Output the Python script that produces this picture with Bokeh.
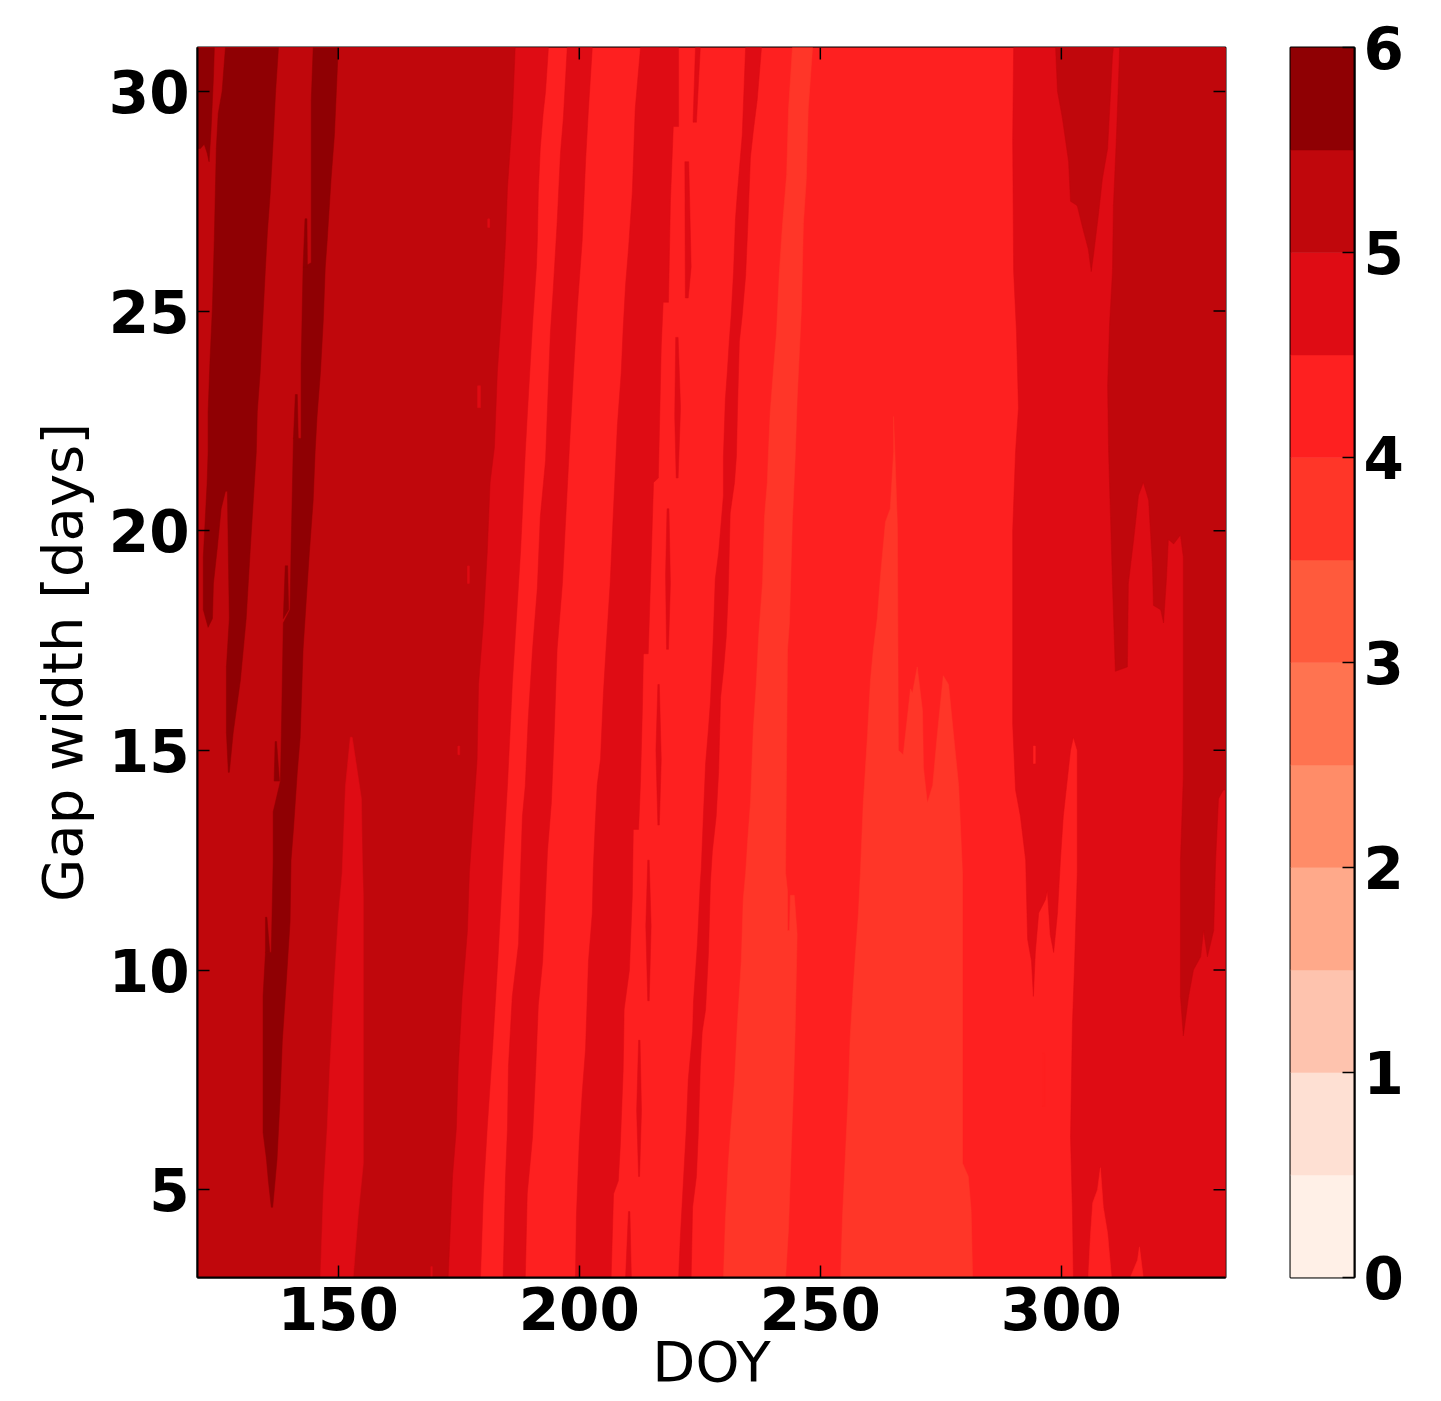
from bokeh.embed import file_html
from bokeh.resources import INLINE
from bokeh.plotting import figure
from bokeh.layouts import row
from bokeh.models import Range1d, FixedTicker

# contour levels and the colour of each filled band
levels = [0, 0.5, 1, 1.5, 2, 2.5, 3, 3.5, 4, 4.5, 5, 5.5, 6]
band_colors = ["#fff0e7", "#fee0d3", "#fec3ae", "#ffa98a", "#ff8c68", "#ff7350",
               "#ff5a3c", "#ff3628", "#fe2020", "#df0c14", "#c0070c", "#8f0003"]
xticks = [150, 200, 250, 300]
yticks = [5, 10, 15, 20, 25, 30]
cticks = [0, 1, 2, 3, 4, 5, 6]
DOY_MIN, DOY_MAX = 120.8, 334.05
GAP_MIN, GAP_MAX = 3, 31

# contour outlines as (DOY, gap width) pairs
edge_45_left = [(193.6,31),(193.0,30.0),(192.5,29.5),(191.9,28.7),(191.5,27.7),(191.3,26.6),(191.1,26.0),(190.3,24.7),(189.2,22.6),(188.8,21.8),(187.8,19.5),(186.1,16.5),(185.1,14.2),(184.2,12.5),(183.2,10.4),(182.0,8.2),(180.9,6.4),(180.1,4.9),(179.5,3)]
edge_50_left = [(186.7,31),(186.1,29.4),(185.1,27.8),(184.7,26.6),(184.0,25.2),(183.0,23.6),(182.4,21.9),(181.5,21.1),(180.9,19.5),(180.1,17.9),(179.1,16.5),(178.8,14.8),(178.0,13.5),(177.2,12.2),(176.8,10.9),(175.7,9.4),(174.9,7.8),(174.5,6.4),(173.7,5.3),(172.8,3)]
stripe_a_left = [(197.5,31),(196.7,29.4),(196.1,28.6),(195.4,27.0),(194.6,25.5),(194.0,24.5),(193.4,22.8),(193.0,21.6),(191.9,20.3),(191.3,18.7),(190.3,17.3),(189.4,15.7),(188.8,14.2),(188.2,13.5),(187.8,12.2),(187.4,10.6),(186.1,9.4),(185.3,7.8),(185.1,6.4),(184.7,5.3),(184.2,3)]
stripe_a_right = [(202.7,31),(201.9,29.6),(201.3,28.4),(200.6,26.6),(199.6,25.1),(198.8,23.6),(197.9,21.8),(197.1,20.1),(196.5,18.8),(195.4,17.3),(194.8,15.4),(194.2,13.8),(193.4,12.7),(193.0,11.7),(192.4,10.2),(191.5,9.2),(190.9,7.6),(190.3,6.2),(189.8,5.6),(189.2,4.9),(188.8,3)]
stripe_b_left = [(212.7,31),(211.6,29.6),(211.0,27.7),(210.2,26.4),(209.6,25.6),(209.1,24.6),(208.7,23.6),(207.9,22.4),(207.1,20.5),(206.4,18.8),(205.6,17.4),(205.0,16.3),(204.4,14.8),(203.7,14.2),(203.3,13.3),(202.9,12.3),(202.7,11.3),(201.9,10.2),(201.3,8.2),(200.6,7.2),(200.0,6.1),(199.4,4.4),(199.2,3)]
stripe_b_right = [(220.6,31),(220.6,29.2),(219.5,29.2),(218.9,27.5),(218.5,25.2),(217.4,25.2),(217.0,24.2),(216.4,21.2),(215.4,21.1),(214.7,18.6),(214.3,17.2),(213.3,17.2),(213.1,16.0),(212.7,14.3),(212.3,13.2),(211.2,13.2),(211.0,11.7),(210.4,10.0),(209.3,9.1),(209.1,7.7),(208.5,6.0),(208.1,5.2),(207.1,4.9),(206.6,3)]
stripe_c_left = [(234.5,31),(233.8,29.0),(232.8,27.7),(232.4,27.1),(232.0,25.9),(231.5,24.9),(231.1,24.3),(230.7,23.6),(230.3,23.0),(229.9,21.7),(229.9,20.8),(228.9,19.5),(228.2,18.9),(227.8,17.6),(227.2,16.1),(226.8,15.5),(226.2,14.7),(225.7,13.4),(225.3,12.3),(225.1,12.0),(224.5,10.6),(223.7,9.3),(223.5,8.6),(222.6,7.5),(222.2,6.4),(221.6,5.2),(221.0,4.0),(220.6,3)]
stripe_c_right = [(237.8,31),(236.9,29.8),(236.1,29.1),(235.5,28.5),(234.9,26.8),(234.5,25.8),(233.8,24.9),(233.2,24.3),(232.8,22.7),(232.6,21.7),(232.2,21.1),(231.3,20.4),(230.9,18.6),(230.5,17.6),(229.9,16.8),(229.3,16.2),(228.9,14.5),(228.4,13.5),(227.6,12.7),(227.2,12.0),(226.8,10.4),(226.2,9.1),(225.5,8.6),(225.1,7.8),(224.7,6.3),(224.3,5.3),(223.5,4.6),(223.2,3)]
sliver_1 = [(224.1,31),(225.1,31),(224.3,29.3),(223.6,29.3)]
sliver_2 = [(221.9,28.4),(222.7,28.4),(223.2,26.0),(222.6,25.3),(222.0,25.3)]
sliver_3 = [(220.0,24.4),(220.5,24.4),(221.0,22.8),(220.5,21.2),(220.1,21.2),(219.8,22.6)]
sliver_4 = [(218.2,20.5),(218.6,20.5),(218.9,18.8),(218.5,17.3),(218.1,17.3),(217.9,19.0)]
sliver_5 = [(216.3,16.5),(216.6,16.5),(217.0,14.8),(216.6,13.3),(216.3,13.3),(215.9,15.0)]
sliver_6 = [(214.2,12.5),(214.5,12.5),(214.9,11.0),(214.5,9.3),(214.2,9.3),(213.8,11.0)]
sliver_7 = [(212.3,8.4),(212.6,8.4),(212.9,6.8),(212.5,5.3),(212.3,5.3),(211.9,6.8)]
sliver_8 = [(210.2,4.5),(210.5,4.5),(210.8,3),(209.6,3)]
centre_35_left = [(244.2,31),(243.4,29.6),(243.0,28.1),(242.1,26.9),(241.5,25.9),(240.9,24.5),(240.3,23.7),(239.6,22.7),(239.2,21.7),(239.0,21.1),(238.4,20.3),(238.0,18.8),(237.2,17.6),(236.7,16.5),(236.1,15.5),(235.5,13.8),(234.9,12.9),(234.5,12.2),(234.0,11.6),(233.6,10.2),(232.8,8.8),(232.2,7.5),(231.5,6.5),(230.9,5.6),(230.3,4.3),(229.9,3)]
centre_35_right = [(248.4,31),(247.5,29.6),(247.1,28.0),(246.5,27.0),(246.1,25.1),(245.2,23.0),(244.8,21.7),(244.2,20.2),(243.6,17.9),(243.2,17.3),(242.8,12.2),(243.2,11.8),(243.2,10.9),(243.6,10.9),(243.8,11.7),(244.6,11.7),(245.2,10.8),(244.8,8.7),(244.4,7.2),(244.0,6.0),(243.4,4.1),(242.8,3)]
blob_35 = [(254.2,3),(254.6,4.4),(255.2,5.8),(255.8,7.2),(256.2,8.5),(256.7,9.4),(257.3,10.4),(257.9,11.3),(258.3,12.2),(258.9,13.8),(259.8,15.4),(260.4,16.6),(261.0,17.3),(261.8,18.0),(262.5,19.0),(263.5,20.2),(264.5,20.5),(265.2,21.8),(265.2,22.6),(265.6,21.4),(266.0,20.1),(266.2,15.0),(267.2,14.9),(267.7,15.4),(268.7,16.4),(269.1,16.3),(270.1,16.9),(271.2,15.9),(271.4,14.6),(272.2,13.8),(273.3,14.2),(274.3,15.4),(275.5,16.7),(276.6,16.5),(277.6,15.4),(278.7,14.2),(279.5,12.2),(279.5,5.6),(280.7,5.3),(281.3,4.5),(281.6,3)]
edge_45_right = [(290.1,31),(289.9,28.9),(290.1,25.9),(290.7,24.5),(291.1,22.8),(290.5,21.8),(289.9,20.0),(289.9,15.6),(290.5,14.1),(291.5,13.5),(292.6,12.5),(293.0,10.7),(293.8,10.2),(294.2,9.4),(294.6,10.4),(295.3,11.3),(296.7,11.6),(297.1,11.8),(297.7,10.8),(298.4,10.4),(299.2,11.3),(299.8,12.5),(300.4,13.5),(301.9,15.0),(302.5,15.3),(303.3,15.0),(303.3,12.2),(302.7,10.0),(302.3,8.8),(301.9,6.2),(302.3,4.5),(302.5,3)]
lobe_40_a = [(305.6,3),(306.0,3.9),(306.5,4.7),(307.5,5.0),(308.1,5.5),(308.7,4.6),(309.6,4.0),(310.4,3)]
lobe_40_b = [(314.3,3),(315.8,3.4),(316.2,3.7),(317.0,3)]
sliver_40_a = [(296.1,8.1),(296.6,8.1),(296.6,6.9),(296.1,6.9)]
sliver_40_b = [(294.2,15.1),(294.6,15.1),(294.6,14.7),(294.2,14.7)]
wedge_50 = [(298.8,31),(299.2,30.0),(300.2,29.4),(301.5,28.4),(301.9,27.5),(303.3,27.4),(304.4,26.9),(305.6,26.4),(306.2,25.9),(306.7,26.3),(307.7,27.2),(308.5,28.0),(309.6,28.7),(310.6,30.8),(310.8,31)]
edge_50_right = [(312.1,31),(311.4,28.9),(310.8,27.4),(310.6,25.9),(310.0,24.7),(309.6,23.3),(309.8,21.8),(310.6,18.8),(311.2,16.8),(313.7,16.9),(313.9,18.8),(315.0,19.8),(316.0,20.8),(317.0,21.1),(318.1,20.7),(318.9,19.2),(319.1,18.3),(320.6,18.2),(321.2,17.9),(321.8,18.9),(322.2,19.8),(323.3,19.7),(324.7,19.9),(325.3,19.4),(325.3,14.4),(324.7,12.5),(324.7,9.4),(325.3,8.5),(326.4,9.4),(327.4,10.0),(328.9,10.3),(329.5,10.9),(330.3,10.3),(331.6,10.9),(332.0,12.5),(332.6,13.9),(333.6,14.1),(334.05,14.1)]
tongue_45 = [(152.5,15.3),(151.5,14.2),(150.8,12.2),(150,11.2),(149,9.4),(148.3,7.9),(147.7,6.4),(146.9,4.9),(146.3,3),(153.1,3),(154.2,4.5),(155.2,5.6),(155.2,11.7),(155.0,12.5),(154.8,13.9),(152.9,15.3)]
speck_45_a = [(181.0,27.1),(181.4,27.1),(181.4,26.9),(181.0,26.9)]
speck_45_b = [(178.9,23.3),(179.5,23.3),(179.5,22.8),(178.9,22.8)]
speck_45_c = [(176.8,19.2),(177.2,19.2),(177.2,18.8),(176.8,18.8)]
speck_45_d = [(174.8,15.1),(175.2,15.1),(175.2,14.9),(174.8,14.9)]
speck_45_e = [(169.2,3.25),(169.5,3.25),(169.5,3),(169.2,3)]
corner_55 = [(120.8,31),(124.3,31),(124.1,30.3),(123.6,29.1),(123.2,28.4),(122.8,28.6),(122.2,28.8),(121.4,28.7),(120.8,28.7)]
streak_55_a = [(126.6,31),(125.9,30),(125.1,29.5),(124.7,28.7),(124.3,26.7),(123.9,25.1),(123.4,23.9),(123.0,22.7),(123.0,21.8),(122.8,21.1),(122.0,19.4),(122.0,18.2),(123.0,17.8),(123.9,18.0),(124.1,18.8),(124.9,19.6),(125.7,20.5),(126.6,20.9),(127.0,20.9),(127.4,18.0),(126.8,16.9),(126.8,15.4),(127.2,14.5),(127.4,14.5),(128.2,15.4),(129.7,16.6),(130.9,18.0),(131.7,19.5),(133.0,21.8),(133.2,22.7),(133.8,23.6),(134.2,24.5),(134.9,26.0),(135.3,26.8),(135.9,27.7),(136.5,28.9),(137.0,30.0),(137.6,31)]
streak_55_b = [(144.8,31),(144.4,29.8),(144.4,26.1),(142.7,26.0),(142.3,23.8),(142.3,22.1),(140.7,22.1),(140.2,19.5),(140.0,18.2),(138.6,17.9),(138.2,15.4),(138.0,14.3),(136.5,13.6),(136.5,12.5),(136.1,10.4),(134.9,10.4),(134.4,9.4),(134.4,6.3),(135.1,5.7),(135.5,5.2),(136.1,4.6),(136.4,4.6),(136.9,5.2),(137.3,5.7),(137.9,7.0),(138.4,8.4),(139.2,9.7),(140.0,11.1),(140.2,12.5),(140.7,13.2),(141.5,14.5),(142.1,15.3),(142.7,17.3),(144.0,19.5),(144.8,20.7),(145.2,21.8),(145.6,22.6),(146.3,23.6),(146.9,24.8),(147.3,26.0),(147.7,26.6),(148.5,28.0),(149.2,29.0),(149.6,30.0),(150,31)]
finger_55_a = [(143.1,27.1),(143.5,27.1),(143.6,26.0),(142.7,26.0)]
finger_55_b = [(141.1,23.1),(141.5,23.1),(141.7,22.1),(140.7,22.1)]
finger_55_c = [(139.0,19.2),(139.5,19.2),(139.7,18.2),(138.6,18.0)]
finger_55_d = [(136.9,15.2),(137.2,15.2),(137.8,14.3),(136.7,14.3)]
finger_55_e = [(134.9,11.2),(135.2,11.2),(135.8,10.4),(134.9,10.4)]


def left_of(edge):
    return [(DOY_MIN, GAP_MAX)] + edge + [(DOY_MIN, GAP_MIN)]


def right_of(edge):
    return edge + [(DOY_MAX, GAP_MIN), (DOY_MAX, GAP_MAX)]


def between(a, b):
    return a + b[::-1]


full_area = [(DOY_MIN, GAP_MIN), (DOY_MIN, GAP_MAX), (DOY_MAX, GAP_MAX), (DOY_MAX, GAP_MIN)]
L7, L8, L9, L10, L11 = 7, 8, 9, 10, 11
regions = [
    (L8, full_area),
    (L7, between(centre_35_left, centre_35_right)),
    (L7, blob_35),
    (L9, left_of(edge_45_left)),
    (L10, left_of(edge_50_left)),
    (L9, between(stripe_a_left, stripe_a_right)),
    (L9, between(stripe_b_left, stripe_b_right)),
    (L9, between(stripe_c_left, stripe_c_right)),
    (L9, sliver_1), (L9, sliver_2), (L9, sliver_3), (L9, sliver_4),
    (L9, sliver_5), (L9, sliver_6), (L9, sliver_7), (L9, sliver_8),
    (L9, right_of(edge_45_right)),
    (L8, lobe_40_a), (L8, lobe_40_b), (L8, sliver_40_a), (L8, sliver_40_b),
    (L10, wedge_50),
    (L10, edge_50_right + [(DOY_MAX, GAP_MAX)]),
    (L9, tongue_45),
    (L9, speck_45_a), (L9, speck_45_b), (L9, speck_45_c), (L9, speck_45_d), (L9, speck_45_e),
    (L11, corner_55), (L11, streak_55_a), (L11, streak_55_b),
    (L11, finger_55_a), (L11, finger_55_b), (L11, finger_55_c), (L11, finger_55_d), (L11, finger_55_e),
]

FONT = "DejaVu Sans"
TICK_SIZE = "58px"
LABEL_SIZE = "56px"

p = figure(frame_width=1028, frame_height=1230,
           x_range=Range1d(DOY_MIN, DOY_MAX), y_range=Range1d(GAP_MIN, GAP_MAX),
           output_backend="svg", toolbar_location=None,
           min_border_left=197, min_border_top=47, min_border_right=23, min_border_bottom=120,
           x_axis_label="DOY", y_axis_label="Gap width [days]")
p.grid.visible = False
p.outline_line_color = "black"
p.outline_line_width = 2

for lev, poly in regions:
    p.patch([q[0] for q in poly], [q[1] for q in poly],
            fill_color=band_colors[lev], line_color=band_colors[lev], line_width=0.5)

# matching tick marks on the top and right edges of the frame
tick_len_x = 12 * (DOY_MAX - DOY_MIN) / 1028
tick_len_y = 12 * (GAP_MAX - GAP_MIN) / 1230
p.segment(x0=xticks, x1=xticks, y0=[GAP_MAX] * len(xticks),
          y1=[GAP_MAX - tick_len_y] * len(xticks), line_color="black", line_width=1.5)
p.segment(x0=[DOY_MAX] * len(yticks), x1=[DOY_MAX - tick_len_x] * len(yticks),
          y0=yticks, y1=yticks, line_color="black", line_width=1.5)


def style(ax, ticks):
    ax.ticker = FixedTicker(ticks=ticks)
    ax.major_tick_in = 12
    ax.major_tick_out = 0
    ax.minor_tick_in = 0
    ax.minor_tick_out = 0
    ax.major_tick_line_color = "black"
    ax.major_tick_line_width = 1.5
    ax.axis_line_color = "black"
    ax.axis_line_width = 2
    ax.major_label_text_font = FONT
    ax.major_label_text_font_size = TICK_SIZE
    ax.major_label_text_font_style = "bold"
    ax.major_label_text_color = "black"
    ax.axis_label_text_font = FONT
    ax.axis_label_text_font_size = LABEL_SIZE
    ax.axis_label_text_font_style = "normal"
    ax.axis_label_text_color = "black"


style(p.xaxis[0], xticks)
style(p.yaxis[0], yticks)
p.xaxis[0].major_label_standoff = 9
p.xaxis[0].axis_label_standoff = -4
p.yaxis[0].major_label_standoff = 8
p.yaxis[0].axis_label_standoff = 11
p.yaxis[0].major_label_orientation = "horizontal"

cb = figure(frame_width=64, frame_height=1230,
            x_range=Range1d(0, 1), y_range=Range1d(levels[0], levels[-1]),
            output_backend="svg", toolbar_location=None,
            x_axis_location=None, y_axis_location="right",
            min_border_left=42, min_border_top=47, min_border_right=50, min_border_bottom=120)
cb.grid.visible = False
cb.outline_line_color = "black"
cb.outline_line_width = 2
cb.quad(left=0, right=1, bottom=levels[:-1], top=levels[1:],
        fill_color=band_colors, line_color=band_colors, line_width=0.5)
style(cb.yaxis[0], cticks)
cb.yaxis[0].major_label_standoff = 9

layout = row(p, cb)
open("out.html", "w").write(file_html(layout, INLINE))
